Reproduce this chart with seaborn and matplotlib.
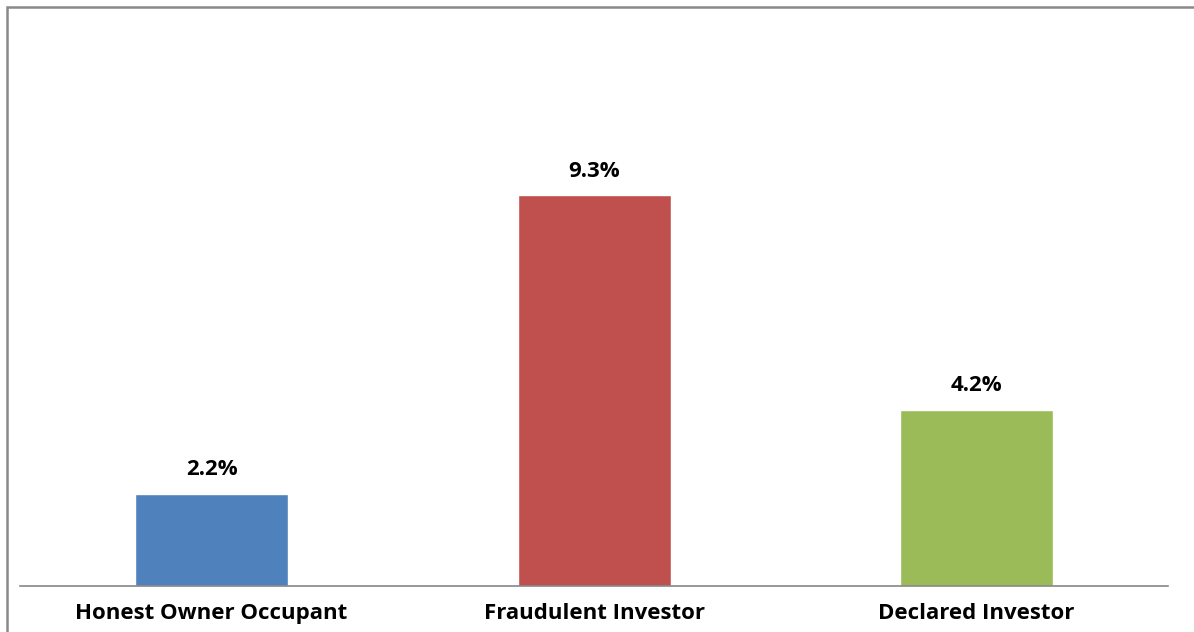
import matplotlib
matplotlib.use("Agg")
import matplotlib.pyplot as plt
import seaborn as sns
import pandas as pd
from matplotlib.patches import Rectangle

categories = ["Honest Owner Occupant", "Fraudulent Investor", "Declared Investor"]
values = [2.2, 9.3, 4.2]
labels = ["2.2%", "9.3%", "4.2%"]
colors = ["#4F81BD", "#C0504D", "#9BBB59"]

sns.set_theme(style="white")
plt.rcParams['font.family'] = ['Open Sans', 'DejaVu Sans']

W, H = 1194, 632
fig = plt.figure(figsize=(W / 100, H / 100), dpi=100)
ax = fig.add_axes([20.25 / W, (H - 586) / H, (1167.75 - 20.25) / W, 420 / H])

df = pd.DataFrame({"cat": categories, "val": values})
sns.barplot(data=df, x="cat", y="val", hue="cat", palette=colors, width=0.4,
            ax=ax, legend=False, saturation=1)

ax.set_ylim(0, 10)
ax.set_xlim(-0.5, 2.5)
ax.set_xlabel("")
ax.set_ylabel("")
ax.set_yticks([])
ax.tick_params(axis="x", length=0, pad=12)
for t in ax.get_xticklabels():
    t.set_fontweight("bold")
    t.set_fontsize(16)
    t.set_color("black")
for s in ["top", "left", "right"]:
    ax.spines[s].set_visible(False)
ax.spines["bottom"].set_color("#868686")
ax.spines["bottom"].set_linewidth(1.2)

for i, (v, lab) in enumerate(zip(values, labels)):
    ax.annotate(lab, (i, v), xytext=(0, 10), textcoords="offset points",
                ha="center", va="bottom", fontsize=16, fontweight="bold", color="black")

fig.patches.append(Rectangle((7 / W, -0.5), 2.0, (H - 7) / H + 0.5, transform=fig.transFigure,
                             fill=False, edgecolor="#898989", linewidth=1.8, figure=fig))

fig.savefig("out.png", dpi=100)
